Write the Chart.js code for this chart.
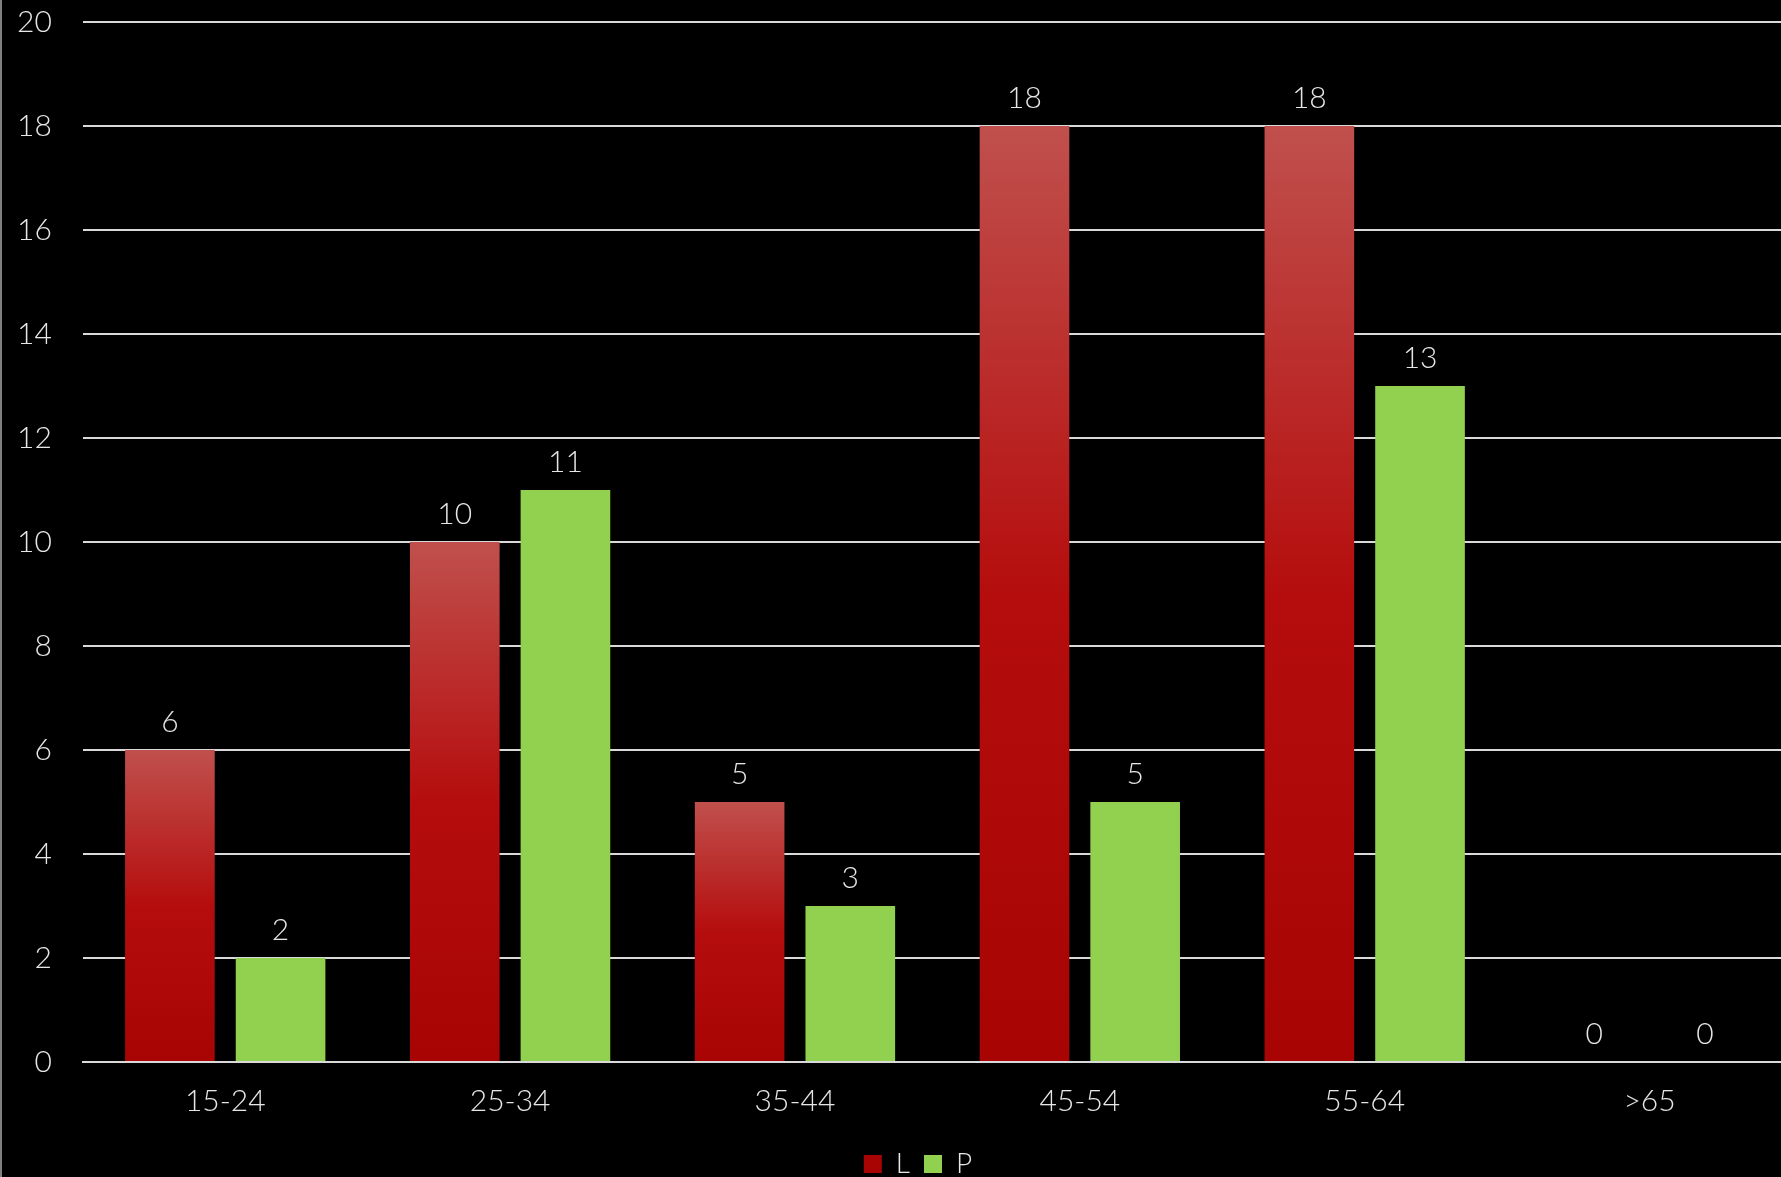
<!DOCTYPE html>
<html>
<head>
<meta charset="utf-8">
<script src="https://cdn.jsdelivr.net/npm/chart.js@4.4.1/dist/chart.umd.min.js"></script>
<style>
  html, body { margin: 0; padding: 0; background: #000; }
  .frame { position: relative; width: 1781px; height: 1177px; overflow: hidden; background: #000; }
  .chart-container { position: absolute; left: 0; top: -27px; width: 1792px; height: 1204px; }
</style>
</head>
<body>
<div class="frame">
  <div class="chart-container">
    <canvas id="ageChart"></canvas>
  </div>
</div>
<script>
const categories = ['15-24', '25-34', '35-44', '45-54', '55-64', '>65'];
const seriesL = [6, 10, 5, 18, 18, 0];
const seriesP = [2, 11, 3, 5, 13, 0];
const yTicks = [0, 2, 4, 6, 8, 10, 12, 14, 16, 18, 20];

const FONT = "Lato, 'Open Sans', sans-serif";
const TEXT = '#e6e6e6';

// red bars fade from a pale top to dark red, per bar
const redGradient = (context) => {
  const chart = context.chart;
  if (!chart.chartArea || context.type !== 'data') return '#b40c0c';
  const y = chart.scales.y;
  const top = y.getPixelForValue(context.raw);
  const bottom = y.getPixelForValue(0);
  if (!(bottom > top)) return '#b40c0c';
  const g = chart.ctx.createLinearGradient(0, top, 0, bottom);
  g.addColorStop(0, '#c0504d');
  g.addColorStop(0.5, '#b50d0d');
  g.addColorStop(1, '#a80404');
  return g;
};

const valueLabels = {
  id: 'valueLabels',
  afterDatasetsDraw(chart) {
    const ctx = chart.ctx;
    ctx.save();
    ctx.font = `300 30px ${FONT}`;
    ctx.fillStyle = TEXT;
    ctx.textAlign = 'center';
    ctx.textBaseline = 'middle';
    chart.data.datasets.forEach((ds, i) => {
      chart.getDatasetMeta(i).data.forEach((bar, j) => {
        ctx.fillText(String(ds.data[j]), bar.x, bar.y - 28);
      });
    });
    ctx.restore();
  }
};

// legend sits a little right of centre in the original
const legendShift = {
  id: 'legendShift',
  afterLayout(chart) {
    if (chart.legend) {
      chart.legend.left += 29;
      chart.legend.right += 29;
    }
  }
};

const leftEdge = {
  id: 'leftEdge',
  afterDraw(chart) {
    const ctx = chart.ctx;
    ctx.save();
    ctx.fillStyle = '#808080';
    ctx.fillRect(0, 0, 2, chart.height);
    ctx.restore();
  }
};

new Chart(document.getElementById('ageChart'), {
  type: 'bar',
  data: {
    labels: categories,
    datasets: [
      { label: 'L', data: seriesL, backgroundColor: redGradient, borderWidth: 0 },
      { label: 'P', data: seriesP, backgroundColor: '#92d050', borderWidth: 0 }
    ]
  },
  options: {
    responsive: true,
    maintainAspectRatio: false,
    animation: false,
    categoryPercentage: 0.777,
    barPercentage: 0.81,
    layout: { padding: { top: 0, left: -14, right: 0, bottom: -11 } },
    scales: {
      x: {
        grid: { display: false, drawTicks: false },
        border: { display: true, color: '#d9d9d9', width: 2 },
        ticks: { color: TEXT, font: { family: FONT, size: 30, weight: '300' }, padding: 21 },
        afterFit: (axis) => { axis.height -= 4; }
      },
      y: {
        min: 0,
        max: 20,
        afterBuildTicks: (axis) => { axis.ticks = yTicks.map(v => ({ value: v })); },
        grid: { color: '#d9d9d9', lineWidth: 2, drawTicks: false },
        border: { display: false },
        ticks: { color: TEXT, font: { family: FONT, size: 30, weight: '300' }, padding: 31 }
      }
    },
    plugins: {
      legend: {
        position: 'bottom',
        labels: {
          color: TEXT,
          font: { family: FONT, size: 28, weight: '300' },
          boxWidth: 18,
          boxHeight: 18,
          padding: 14
        }
      },
      tooltip: { enabled: false }
    }
  },
  plugins: [valueLabels, legendShift, leftEdge]
});
</script>
</body>
</html>
